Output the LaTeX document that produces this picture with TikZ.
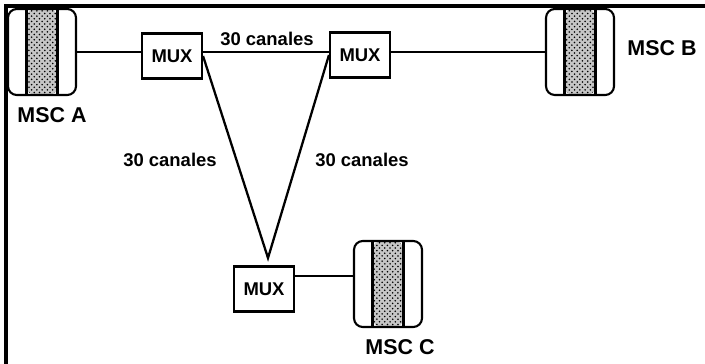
\documentclass[tikz,border=0pt]{standalone}
\usepackage{fontspec}
\setmainfont{Liberation Sans}
\usetikzlibrary{patterns}

\begin{document}
\begin{tikzpicture}[x=0.02cm, y=-0.02cm, font=\bfseries,
  msc/.style={draw, line width=1.2pt, rounded corners=5pt,
    minimum width=1.36cm, minimum height=1.72cm, inner sep=0pt,
    path picture={
      \fill[gray!45]
        ([xshift=-0.31cm]path picture bounding box.south)
        rectangle ([xshift=0.31cm]path picture bounding box.north);
      \fill[pattern=crosshatch dots, pattern color=black]
        ([xshift=-0.31cm]path picture bounding box.south)
        rectangle ([xshift=0.31cm]path picture bounding box.north);
      \draw[line width=1.6pt]
        ([xshift=-0.31cm]path picture bounding box.south)
        -- ([xshift=-0.31cm]path picture bounding box.north);
      \draw[line width=1.6pt]
        ([xshift=0.31cm]path picture bounding box.south)
        -- ([xshift=0.31cm]path picture bounding box.north);
    }},
  mux/.style={draw, line width=1.2pt, minimum width=1.2cm,
    minimum height=0.9cm, font=\bfseries\fontsize{10.5}{12}\selectfont},
  lbl/.style={font=\bfseries\fontsize{10.5}{12}\selectfont},
  msclabel/.style={font=\bfseries\fontsize{12.2}{14}\selectfont},
  link/.style={line width=0.9pt},
  trunk/.style={line width=1.3pt}]

\useasboundingbox (0,0) rectangle (705,364);

% frame (scan shows only top and left)
\draw[line width=1.8pt] (6,364) -- (6,6) -- (705,6);

% switching centres
\node[msc] (mscA) at (42,52) {};
\node[msc] (mscB) at (580,52) {};
\node[msc] (mscC) at (388,284) {};

% multiplexers
\node[mux] (muxA) at (172,56) {MUX};
\node[mux] (muxB) at (360,55) {MUX};
\node[mux] (muxC) at (264,289) {MUX};

\coordinate (apex) at (268,258);

% links
\draw[link] (mscA.east) -- (muxA.west |- mscA.east);
\draw[link] (muxA.east |- mscA.east) -- (muxB.west |- mscA.east);
\draw[link] (muxB.east |- mscA.east) -- (mscB.west |- mscA.east);
\draw[link] (muxC.23) -- (muxC.23 -| mscC.west);
\draw[trunk] (muxA.east) -- (apex) -- (muxB.west);

% labels
\node[lbl] (chAB) at (267,39) {30 canales};
\node[lbl] (chAC) at (170,160) {30 canales};
\node[lbl] (chBC) at (362,160) {30 canales};
\node[msclabel] (nameA) at (52,115) {MSC A};
\node[msclabel] (nameB) at (662,48) {MSC B};
\node[msclabel] (nameC) at (400,347) {MSC C};

\end{tikzpicture}
\end{document}
